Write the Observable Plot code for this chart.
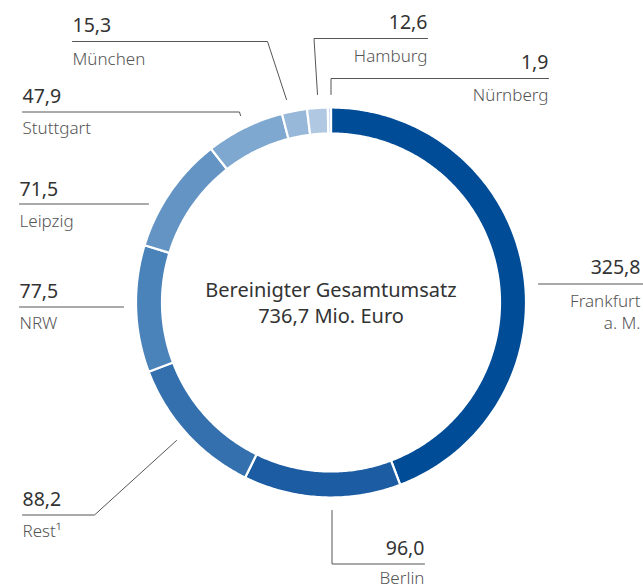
<!DOCTYPE html>
<html><head><meta charset="utf-8">
<script src="https://cdn.jsdelivr.net/npm/d3@7"></script>
<script src="https://cdn.jsdelivr.net/npm/@observablehq/plot@0.6"></script>
<style>
body{margin:0;background:#fff;}
#chart svg{font-family:"Noto Sans",sans-serif;display:block;}
</style>
</head><body><div id="chart"></div>
<script>
// ---- data ----
const regions = ["Frankfurt a. M.", "Berlin", "Rest¹", "NRW", "Leipzig", "Stuttgart", "München", "Hamburg", "Nürnberg"];
const values  = [325.8, 96.0, 88.2, 77.5, 71.5, 47.9, 15.3, 12.6, 1.9];
const colors  = ["#004c97", "#1b5ca2", "#3470ad", "#4a82ba", "#6494c4", "#7ea8cf", "#97b8d8", "#b0c8e2", "#c8d9ed"];
const centerTitle = "Bereinigter Gesamtumsatz";
const unit = "Mio. Euro";

// ---- layout (not data) ----
const W = 643, H = 588;
const cx = 330.5, cy = 302, R = 195, r = 169;
const layout = {
  "Frankfurt a. M.": {anchor: "end",   x: 640, vy: 273,   ly: 328,   leader: [[538,283.5],[643,283.5]]},
  "Berlin":          {anchor: "end",   x: 424, vy: 554.5, ly: 583.5, leader: [[331.5,510],[331.5,563.5],[424,563.5]]},
  "Rest¹":           {anchor: "start", x: 22,  vy: 505,   ly: 536.5, leader: [[176,440],[94,514.5],[22,514.5]]},
  "NRW":             {anchor: "start", x: 19,  vy: 297.5, ly: 328,   leader: [[19,306.5],[123,306.5]]},
  "Leipzig":         {anchor: "start", x: 19,  vy: 195,   ly: 226.5, leader: [[19,203.5],[148,203.5]]},
  "Stuttgart":       {anchor: "start", x: 22,  vy: 102.5, ly: 133,   leader: [[22,111.5],[239,111.5],[240,115]]},
  "München":         {anchor: "start", x: 72,  vy: 31,    ly: 64,    leader: [[72,41],[267,41],[286,99]]},
  "Hamburg":         {anchor: "end",   x: 427, vy: 28,    ly: 61.5,  leader: [[427,38],[313.5,38],[317,94]]},
  "Nürnberg":        {anchor: "end",   x: 548, vy: 68,    ly: 100,   leader: [[548,78],[330.5,78],[330.5,94]]}
};

const de = d3.formatLocale({decimal: ",", thousands: ".", grouping: [3], currency: ["", " €"]});
const fmt = de.format(".1f");

// ---- slices via d3.pie ----
const slices = d3.pie().sort(null).value(d => d.value)(regions.map((name, i) => ({name, value: values[i]})));
const ring = [];
for (const s of slices) {
  const n = Math.max(3, Math.ceil((s.endAngle - s.startAngle) * 90));
  for (let k = 0; k <= n; k++) {
    const a = s.startAngle + (s.endAngle - s.startAngle) * k / n;
    ring.push({name: s.data.name, x: cx + R * Math.sin(a), y: cy - R * Math.cos(a)});
  }
  for (let k = n; k >= 0; k--) {
    const a = s.startAngle + (s.endAngle - s.startAngle) * k / n;
    ring.push({name: s.data.name, x: cx + r * Math.sin(a), y: cy - r * Math.cos(a)});
  }
}

const labels = regions.map((name, i) => ({
  name, value: fmt(values[i]), label: name.replace(" a. M.", "\na. M."), ...layout[name]
}));
const leaders = labels.flatMap(d => d.leader.map(([x, y]) => ({name: d.name, x, y})));
const total = d3.sum(values);

const textMarks = ["start", "end"].flatMap(anchor => {
  const sub = labels.filter(d => d.anchor === anchor);
  return [
    Plot.text(sub, {x: "x", y: "vy", text: "value", textAnchor: anchor, lineAnchor: "bottom", fontSize: 19.5, fill: "#333"}),
    Plot.text(sub, {x: "x", y: "ly", text: "label", textAnchor: anchor, lineAnchor: "bottom", fontSize: 17, fontWeight: 300, lineHeight: 1.25, fill: "#555"})
  ];
});

const chart = Plot.plot({
  width: W, height: H,
  margin: 0,
  style: {fontFamily: "'Noto Sans', sans-serif", background: "#fff"},
  x: {domain: [0, W], range: [0, W], axis: null},
  y: {domain: [0, H], range: [0, H], axis: null},
  color: {domain: regions, range: colors},
  marks: [
    Plot.line(ring, {x: "x", y: "y", z: "name", fill: "name", stroke: "white", strokeWidth: 2.2, curve: "linear-closed"}),
    Plot.line(leaders, {x: "x", y: "y", z: "name", stroke: "#555", strokeWidth: 1}),
    ...textMarks,
    Plot.text([`${centerTitle}\n${fmt(total)} ${unit}`], {x: cx, y: 322, text: d => d, textAnchor: "middle", lineAnchor: "bottom", fontSize: 20, lineHeight: 1.3, fill: "#333"})
  ]
});
document.getElementById("chart").appendChild(chart);
</script>
</body></html>
